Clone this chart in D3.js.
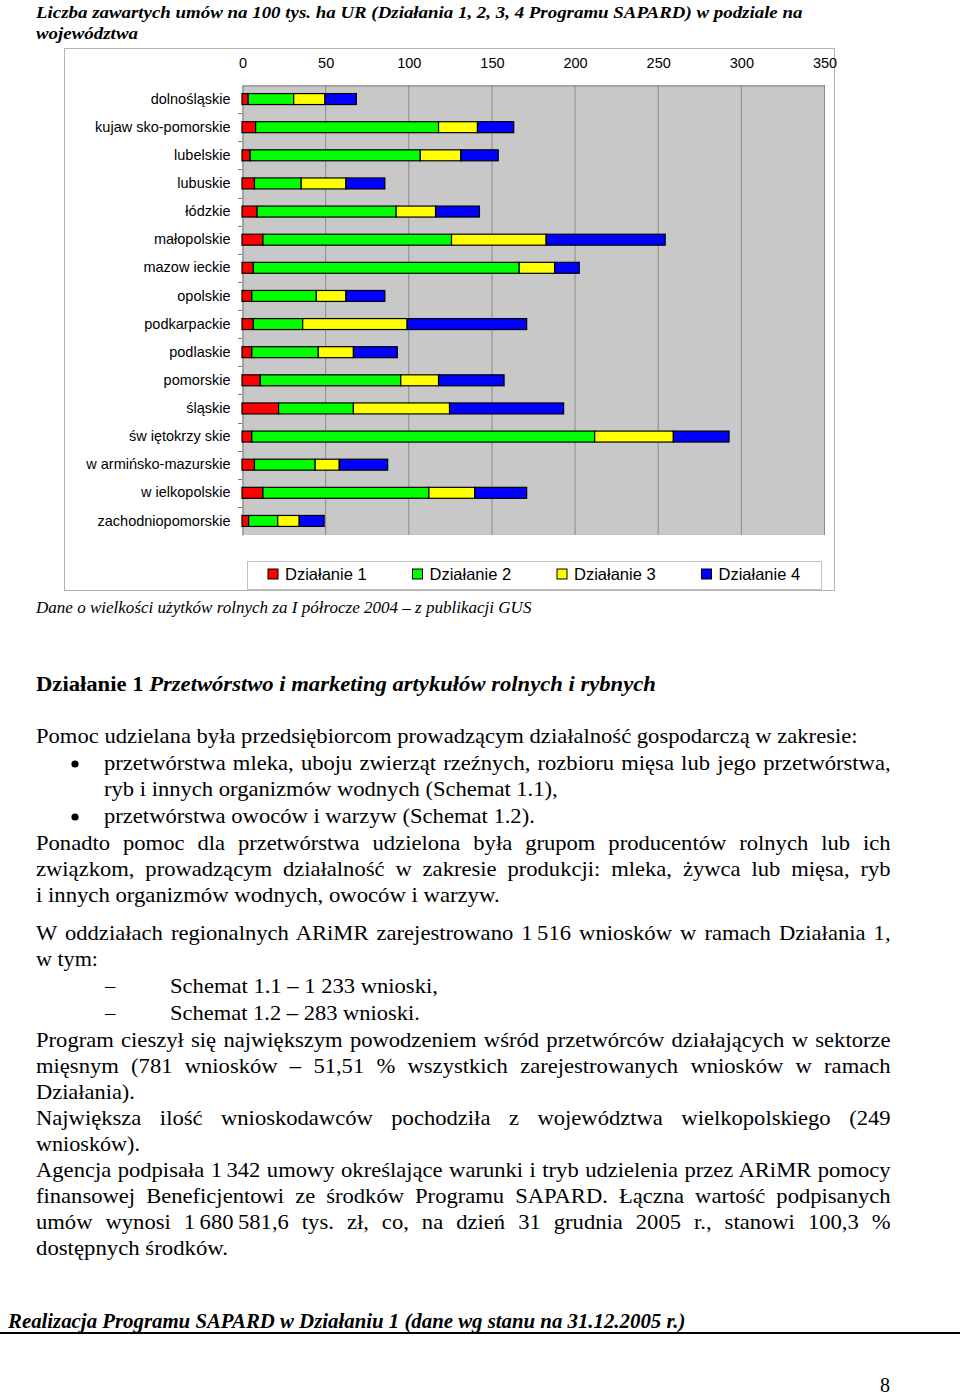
<!DOCTYPE html>
<html>
<head>
<meta charset="utf-8">
<script src="https://cdn.jsdelivr.net/npm/d3@7"></script>
<style>
  html, body { margin: 0; padding: 0; background: #fff; }
  svg { display: block; }
</style>
</head>
<body>
<svg id="page" width="960" height="1398"></svg>
<script>
// ---------- DATA ----------
const categories = ["dolnośląskie","kujaw sko-pomorskie","lubelskie","lubuskie","łódzkie","małopolskie","mazow ieckie","opolskie","podkarpackie","podlaskie","pomorskie","śląskie","św iętokrzy skie","w armińsko-mazurskie","w ielkopolskie","zachodniopomorskie"];
const seriesNames = ["Działanie 1","Działanie 2","Działanie 3","Działanie 4"];
const dzialanie1 = [3.7, 8.2, 4.9, 7.5, 9.1, 12.6, 6.8, 5.9, 6.8, 5.9, 11.0, 22.0, 5.9, 7.5, 12.6, 4.0];
const dzialanie2 = [27.4, 110.0, 102.3, 28.1, 83.6, 113.4, 159.9, 38.8, 29.7, 40.0, 84.5, 45.0, 206.2, 36.5, 99.8, 17.5];
const dzialanie3 = [18.8, 23.4, 24.4, 26.9, 23.7, 56.9, 21.3, 17.8, 62.8, 21.1, 22.7, 57.8, 47.3, 14.5, 27.6, 12.9];
const dzialanie4 = [18.9, 21.8, 22.5, 23.4, 26.4, 71.6, 14.8, 23.4, 71.9, 26.4, 39.4, 68.6, 33.5, 29.1, 31.2, 15.0];
const tickValues = [0, 50, 100, 150, 200, 250, 300, 350];
const colors = ["#ff0000", "#00ff00", "#ffff00", "#0000ff"];

const titleLines = ["Liczba zawartych umów na 100 tys. ha UR (Działania 1, 2, 3, 4 Programu SAPARD) w podziale na", "województwa"];
const captionText = "Dane o wielkości użytków rolnych za I półrocze 2004 – z publikacji GUS";

// ---------- CHART ----------
const svg = d3.select("#page");
const serif = "'Liberation Serif','Times New Roman',serif";
const sans = "'Liberation Sans',Arial,sans-serif";

const table = categories.map((c, i) => ({
  cat: c, "Działanie 1": dzialanie1[i], "Działanie 2": dzialanie2[i],
  "Działanie 3": dzialanie3[i], "Działanie 4": dzialanie4[i]
}));
const stacked = d3.stack().keys(seriesNames)(table);

const plot = {x0: 242, x1: 824, y0: 85, y1: 535};
const x = d3.scaleLinear().domain([0, 350]).range([plot.x0, plot.x1]);
const y = d3.scaleBand().domain(categories).range([plot.y0, plot.y1]).paddingInner(0.61).paddingOuter(0.305);
const yb = d3.scaleBand().domain(categories).range([plot.y0, plot.y1]);

// outer chart border
svg.append("rect").attr("x", 64.5).attr("y", 48.5).attr("width", 770).attr("height", 542)
  .attr("fill", "#fff").attr("stroke", "#b4b4b4");

// plot background
svg.append("rect").attr("x", plot.x0).attr("y", plot.y0)
  .attr("width", plot.x1 - plot.x0).attr("height", plot.y1 - plot.y0).attr("fill", "#c8c8c8");

// gridlines
svg.append("g").selectAll("line").data(tickValues.slice(1)).join("line")
  .attr("x1", d => x(d) + 0.5).attr("x2", d => x(d) + 0.5)
  .attr("y1", plot.y0).attr("y2", plot.y1)
  .attr("stroke", "#8c8c8c").attr("stroke-width", 1);

// top axis
const xAxis = d3.axisTop(x).tickValues(tickValues).tickSize(0).tickPadding(0).tickFormat(d3.format("d"));
const gx = svg.append("g").attr("transform", `translate(0.5,${plot.y0 + 0.5})`).call(xAxis);
gx.select(".domain").attr("stroke", "#808080");
gx.selectAll("text").attr("y", -18).attr("font-family", sans).attr("font-size", 14.5).attr("fill", "#000");

// left axis
const yAxis = d3.axisLeft(yb).tickSize(0).tickFormat(d => d);
const gy = svg.append("g").attr("transform", `translate(${plot.x0 + 0.5},0)`).call(yAxis);
gy.select(".domain").attr("stroke", "#808080");
gy.selectAll("text").attr("x", -12).attr("font-family", sans).attr("font-size", 14.5).attr("fill", "#000");
// small ticks at band boundaries
svg.append("g").selectAll("line").data(categories.slice(1)).join("line")
  .attr("x1", plot.x0 - 4).attr("x2", plot.x0)
  .attr("y1", d => Math.round(yb(d)) + 0.5).attr("y2", d => Math.round(yb(d)) + 0.5)
  .attr("stroke", "#808080");

// bars
svg.append("g").selectAll("g").data(stacked).join("g")
  .attr("fill", (d, i) => colors[i])
  .selectAll("rect").data(d => d).join("rect")
  .attr("x", d => x(d[0]))
  .attr("y", d => y(d.data.cat))
  .attr("width", d => x(d[1]) - x(d[0]))
  .attr("height", y.bandwidth())
  .attr("stroke", "#000").attr("stroke-width", 1.2);

// legend
svg.append("rect").attr("x", 247.5).attr("y", 561.5).attr("width", 574).attr("height", 28)
  .attr("fill", "#fff").attr("stroke", "#c0c0c0");
const lg = svg.append("g").selectAll("g").data(seriesNames).join("g")
  .attr("transform", (d, i) => `translate(${268 + i * 144.5},569)`);
lg.append("rect").attr("width", 10).attr("height", 10).attr("fill", (d, i) => colors[i]).attr("stroke", "#000");
lg.append("text").attr("x", 17).attr("y", 10.5).attr("font-family", sans).attr("font-size", 16.5).text(d => d);

// ---------- PAGE TEXT ----------
const SIZE = 20.5;
let SX = 1;
function line(opts) {
  const t = svg.append("text")
    .attr("font-family", serif)
    .attr("font-size", opts.size || SIZE)
    .attr("font-weight", opts.weight || "normal")
    .attr("font-style", opts.style || "normal")
    .attr("fill", "#000");
  if (opts.parts) {
    opts.parts.forEach(p => t.append("tspan").attr("font-weight", p.weight || null).attr("font-style", p.style || null).text(p.t));
  } else t.text(opts.text);
  const nat = t.node().getComputedTextLength();
  if (opts.justify) {
    const txt = opts.text;
    const spaces = (txt.match(/ /g) || []).length;
    let sx = SX;
    let ws = (opts.w / sx - nat) / spaces;
    if (ws < 0) { sx = opts.w / nat; ws = 0; }
    t.style("word-spacing", ws + "px").attr("transform", `translate(${opts.x},${opts.y}) scale(${sx},1)`);
  } else {
    const sx = opts.w / nat;
    if (opts.ref) SX = sx;
    t.attr("transform", `translate(${opts.x},${opts.y}) scale(${sx},1)`);
  }
  return t;
}

line({text: titleLines[0], x: 36, y: 18, w: 767, size: 17.5, weight: "bold", style: "italic"});
line({text: titleLines[1], x: 36, y: 39, w: 102, size: 17.5, weight: "bold", style: "italic"});
line({text: captionText, x: 36, y: 613, w: 496, size: 16, style: "italic"});

line({parts: [{t: "Działanie 1 ", weight: "bold"}, {t: "Przetwórstwo i marketing artykułów rolnych i rybnych", weight: "bold", style: "italic"}],
  x: 36, y: 691, w: 620, size: 21});

const L = 36, R = 891;
const TS = "\u2009"; // thin space inside numbers (not stretched by justification)
const body = [
  {text: "Pomoc udzielana była przedsiębiorcom prowadzącym działalność gospodarczą w zakresie:", x: L, y: 743, w: 822, ref: true},
  {text: "przetwórstwa mleka, uboju zwierząt rzeźnych, rozbioru mięsa lub jego przetwórstwa,", x: 104, y: 770, w: R - 104, justify: true},
  {text: "ryb i innych organizmów wodnych (Schemat 1.1),", x: 104, y: 796, w: 454},
  {text: "przetwórstwa owoców i warzyw (Schemat 1.2).", x: 104, y: 823, w: 431},
  {text: "Ponadto pomoc dla przetwórstwa udzielona była grupom producentów rolnych lub ich", x: L, y: 850, w: R - L, justify: true},
  {text: "związkom, prowadzącym działalność w zakresie produkcji: mleka, żywca lub mięsa, ryb", x: L, y: 876, w: R - L, justify: true},
  {text: "i innych organizmów wodnych, owoców i warzyw.", x: L, y: 902, w: 464},
  {text: `W oddziałach regionalnych ARiMR zarejestrowano 1${TS}516 wniosków w ramach Działania 1,`, x: L, y: 940, w: R - L, justify: true},
  {text: "w tym:", x: L, y: 966, w: 62},
  {text: "Schemat 1.1 – 1 233 wnioski,", x: 170, y: 993, w: 268},
  {text: "Schemat 1.2 – 283 wnioski.", x: 170, y: 1020, w: 250},
  {text: "Program cieszył się największym powodzeniem wśród przetwórców działających w sektorze", x: L, y: 1047, w: R - L, justify: true},
  {text: "mięsnym (781 wniosków – 51,51 % wszystkich zarejestrowanych wniosków w ramach", x: L, y: 1073, w: R - L, justify: true},
  {text: "Działania).", x: L, y: 1099, w: 99},
  {text: "Największa ilość wnioskodawców pochodziła z województwa wielkopolskiego (249", x: L, y: 1125, w: R - L, justify: true},
  {text: "wniosków).", x: L, y: 1151, w: 104},
  {text: `Agencja podpisała 1${TS}342 umowy określające warunki i tryb udzielenia przez ARiMR pomocy`, x: L, y: 1177, w: R - L, justify: true},
  {text: "finansowej Beneficjentowi ze środków Programu SAPARD. Łączna wartość podpisanych", x: L, y: 1203, w: R - L, justify: true},
  {text: `umów wynosi 1${TS}680${TS}581,6 tys. zł, co, na dzień 31 grudnia 2005 r., stanowi 100,3 %`, x: L, y: 1229, w: R - L, justify: true},
  {text: "dostępnych środków.", x: L, y: 1255, w: 192}
];
body.forEach(line);

// bullets and dashes
[770, 823].forEach(yy => svg.append("circle").attr("cx", 75).attr("cy", yy - 6).attr("r", 3.6).attr("fill", "#000"));
[993, 1020].forEach(yy => svg.append("text").attr("x", 105).attr("y", yy).attr("font-family", serif).attr("font-size", SIZE).text("–"));

// footer
line({text: "Realizacja Programu SAPARD w Działaniu 1 (dane wg stanu na 31.12.2005 r.)", x: 8, y: 1328, w: 678, size: 20, weight: "bold", style: "italic"});
svg.append("rect").attr("x", 0).attr("y", 1332).attr("width", 960).attr("height", 2).attr("fill", "#000");
svg.append("text").attr("x", 880).attr("y", 1392).attr("font-family", serif).attr("font-size", 20).text("8");
</script>
</body>
</html>
